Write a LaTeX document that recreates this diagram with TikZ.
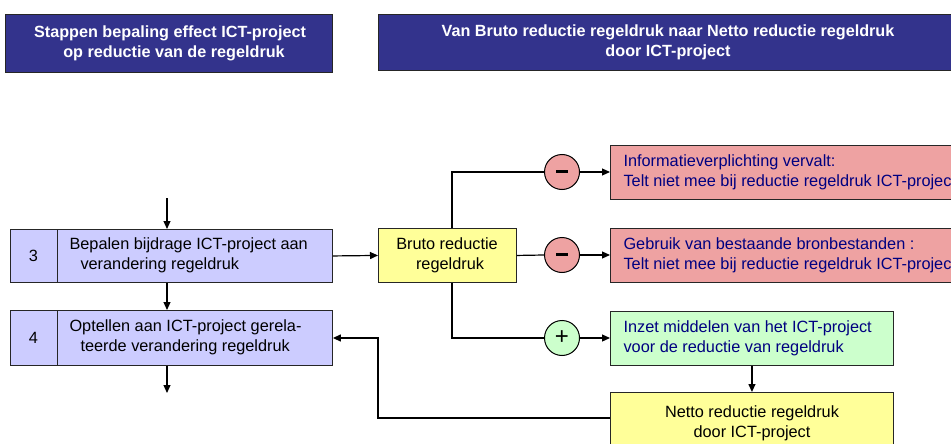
\documentclass[tikz,border=0pt]{standalone}
\usepackage{fontspec}
\setmainfont{Liberation Sans}
\usetikzlibrary{arrows.meta,calc}
\definecolor{hdrblue}{RGB}{51,51,140}
\definecolor{lav}{RGB}{204,204,255}
\definecolor{lyel}{RGB}{255,255,153}
\definecolor{lred}{RGB}{238,162,162}
\definecolor{lgreen}{RGB}{204,255,204}
\definecolor{navytxt}{RGB}{0,0,128}
\tikzset{
  bx/.style={draw=black!85, line width=0.9pt, anchor=north west, inner sep=0pt},
  hdrfont/.style={text=white, font=\fontsize{16.2}{20}\selectfont\bfseries, align=center},
  txt/.style={font=\fontsize{16.3}{20}\selectfont},
  circ/.style={circle, draw=black, line width=1pt, minimum size=35pt, inner sep=0pt, font=\fontsize{24}{24}\selectfont},
  arr/.style={draw=black, line width=1.2pt, -{Triangle[length=8pt,width=7pt]}},
  ln/.style={draw=black, line width=1.2pt}
}
\begin{document}
\begin{tikzpicture}[x=1pt,y=-1pt]
\clip (0,0) rectangle (951,444);
\fill[white] (0,0) rectangle (951,444);
% headers
\node[bx, fill=hdrblue, minimum width=327pt, minimum height=58pt] (h1) at (5,14) {};
\node[hdrfont] (h1t) at (170,43) {Stappen bepaling effect ICT-project\\\hspace{8pt}op reductie van de regeldruk};
\node[bx, fill=hdrblue, minimum width=640pt, minimum height=56pt] (h2) at (378,14) {};
\node[hdrfont] (h2t) at (668,42) {Van Bruto reductie regeldruk naar Netto reductie regeldruk\\door ICT-project};
% left process boxes
\node[bx, fill=lav, minimum width=322pt, minimum height=53pt] (b3) at (10,229) {};
\node[bx, fill=lav, minimum width=322pt, minimum height=55pt] (b4) at (10,310) {};
\draw[line width=0.9pt, black!85] (57,229) -- (57,282) (57,310) -- (57,365);
\node[txt] (n3) at (33.5,255.5) {3};
\node[txt] (n4) at (33.5,337.5) {4};
\node[txt, anchor=west, align=left] (t3) at (66,255.5) {Bepalen bijdrage ICT-project aan\\\hspace{11pt}verandering regeldruk};
\node[txt, anchor=west, align=left] (t4) at (66,337.5) {Optellen aan ICT-project gerela-\\\hspace{11pt}teerde verandering regeldruk};
% bruto
\node[bx, fill=lyel, minimum width=138pt, minimum height=54pt] (bruto) at (378,228) {};
\node[txt, align=center] (brutot) at (447,255) {Bruto reductie\\\hspace{6pt}regeldruk};
% circles
\node[circ, fill=lred] (c1) at (562,172) {\rule[0.9pt]{12pt}{3.6pt}};
\node[circ, fill=lred] (c2) at (562,255) {\rule[0.9pt]{12pt}{3.6pt}};
\node[circ, fill=lgreen] (c3) at (562,338) {+};
% right boxes
\node[bx, fill=lred, minimum width=400pt, minimum height=54pt] (r1) at (610,145) {};
\node[txt, text=navytxt, anchor=west, align=left] (r1t) at (620,172) {Informatieverplichting vervalt:\\Telt niet mee bij reductie regeldruk ICT-project};
\node[bx, fill=lred, minimum width=400pt, minimum height=54pt] (r2) at (610,228) {};
\node[txt, text=navytxt, anchor=west, align=left] (r2t) at (620,255) {Gebruik van bestaande bronbestanden :\\Telt niet mee bij reductie regeldruk ICT-project};
\node[bx, fill=lgreen, minimum width=283pt, minimum height=54pt] (g) at (610,311) {};
\node[txt, text=navytxt, anchor=west, align=left] (gt) at (620,338) {Inzet middelen van het ICT-project\\voor de reductie van regeldruk};
\node[bx, fill=lyel, minimum width=283pt, minimum height=56pt] (netto) at (610,392) {};
\node[txt, align=center] (nettot) at (752,423) {Netto reductie regeldruk\\door ICT-project};
% connectors
\coordinate (in) at (167,198);
\coordinate (out) at (167,393);
\coordinate (j) at (452,0);
\coordinate (fb) at (378,338);
\draw[arr] (in) -- (in |- b3.north);
\draw[arr] (in |- b3.south) -- (in |- b4.north);
\draw[arr] (in |- b4.south) -- (out);
\draw[arr] (b3.east) -- (bruto.west);
\draw[ln] (j |- bruto.north) |- (c1.west);
\draw[ln] (bruto.east) -- (c2.west);
\draw[ln] (j |- bruto.south) |- (c3.west);
\draw[arr] (c1.east) -- (c1.east -| r1.west);
\draw[arr] (c2.east) -- (c2.east -| r2.west);
\draw[arr] (c3.east) -- (c3.east -| g.west);
\draw[arr] (g.south) -- (netto.north);
\draw[arr] (netto.west |- 0,418) -| (fb) -- (fb -| b4.east);
\end{tikzpicture}
\end{document}
